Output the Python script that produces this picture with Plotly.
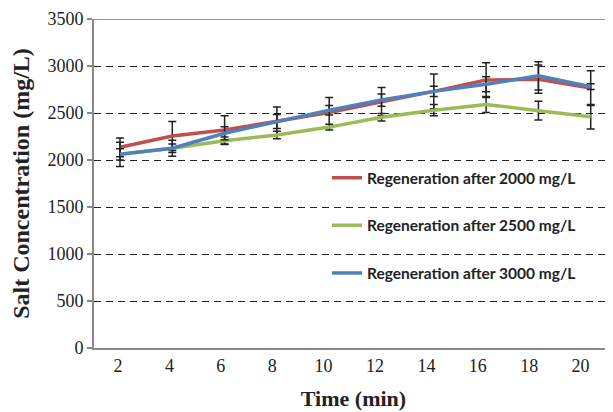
import plotly.graph_objects as go

time_labels = ["2", "4", "6", "8", "10", "12", "14", "16", "18", "20"]

regen_2000 = [2135, 2255, 2320, 2415, 2505, 2620, 2730, 2850, 2860, 2765]
regen_2000_err = [100, 155, 150, 150, 160, 150, 185, 185, 150, 185]

regen_2500 = [2060, 2125, 2205, 2265, 2350, 2455, 2530, 2590, 2525, 2460]
regen_2500_err = [60, 45, 40, 40, 30, 40, 60, 85, 100, 130]

regen_3000 = [2060, 2125, 2285, 2410, 2530, 2638, 2730, 2805, 2895, 2780]
regen_3000_err = [130, 85, 70, 75, 50, 65, 55, 80, 150, 30]

series = [
    ("Regeneration after 2000 mg/L", regen_2000, regen_2000_err, "#C0504D"),
    ("Regeneration after 2500 mg/L", regen_2500, regen_2500_err, "#9BBB59"),
    ("Regeneration after 3000 mg/L", regen_3000, regen_3000_err, "#4F81BD"),
]

# category positions (index) for the points
x_pos = list(range(len(time_labels)))
# pixel geometry of the original (points 52.3 px apart; labels/ticks slightly tighter)
pt_step = 52.3
label_pos = [(-2 + 51.4 * k) / pt_step for k in x_pos]
boundary_pos = [(-26.7 + 51.33 * k) / pt_step for k in range(len(time_labels) + 1)]

fig = go.Figure()
for i, (name, vals, errs, color) in enumerate(series):
    fig.add_trace(go.Scatter(
        x=x_pos, y=vals, name=name, mode="lines",
        line=dict(color=color, width=3.5),
        error_y=dict(type="data", array=errs, visible=True,
                     color="#222222", thickness=1.5, width=4),
        legendgroup=f"g{i}",
    ))

# top border line (grey) under the dashed grid line
fig.add_shape(type="line", xref="paper", yref="y", x0=0, x1=1, y0=3500, y1=3500,
              line=dict(color="#999999", width=2), layer="below")

serif = "Liberation Serif"
# the page body has an 8px default margin, so the figure is sized/positioned to compensate
fig.update_layout(
    width=605, height=404,
    margin=dict(l=86, r=0, t=11, b=64),
    paper_bgcolor="white", plot_bgcolor="white",
    showlegend=True,
    legend=dict(
        x=0.449, y=0.568, xanchor="left", yanchor="top",
        bgcolor="rgba(0,0,0,0)",
        font=dict(family="Lato", size=15.5, color="#222222", weight="bold"),
        tracegroupgap=24.5,
    ),
    xaxis=dict(
        range=[-0.497, 9.426], automargin=False,
        tickvals=label_pos, ticktext=time_labels, ticks="", ticklen=0,
        showline=True, linecolor="#888888", linewidth=2,
        showgrid=False, zeroline=False,
        tickfont=dict(family=serif, size=18, color="#222222"),
        title=dict(text="Time (min)", standoff=16,
                   font=dict(family=serif, size=22, color="#222222", weight="bold")),
    ),
    xaxis2=dict(
        overlaying="x", matches="x", anchor="y", side="bottom",
        range=[-0.497, 9.426], automargin=False,
        tickvals=boundary_pos, showticklabels=False,
        ticks="outside", ticklen=5, tickcolor="#888888", tickwidth=1.5,
        showline=False, showgrid=False, zeroline=False,
    ),
    yaxis=dict(
        range=[0, 3500], tickvals=[0, 500, 1000, 1500, 2000, 2500, 3000, 3500],
        automargin=False,
        ticks="outside", ticklen=5, tickcolor="#888888", tickwidth=1.5,
        showline=True, linecolor="#888888", linewidth=2,
        showgrid=True, gridcolor="#222222", griddash="7px,5px", gridwidth=1.3,
        zeroline=False,
        tickfont=dict(family=serif, size=18, color="#222222"),
        title=dict(text="Salt Concentration (mg/L)", standoff=12,
                   font=dict(family=serif, size=24, color="#222222", weight="bold")),
    ),
)

fig.write_html("out.html")
